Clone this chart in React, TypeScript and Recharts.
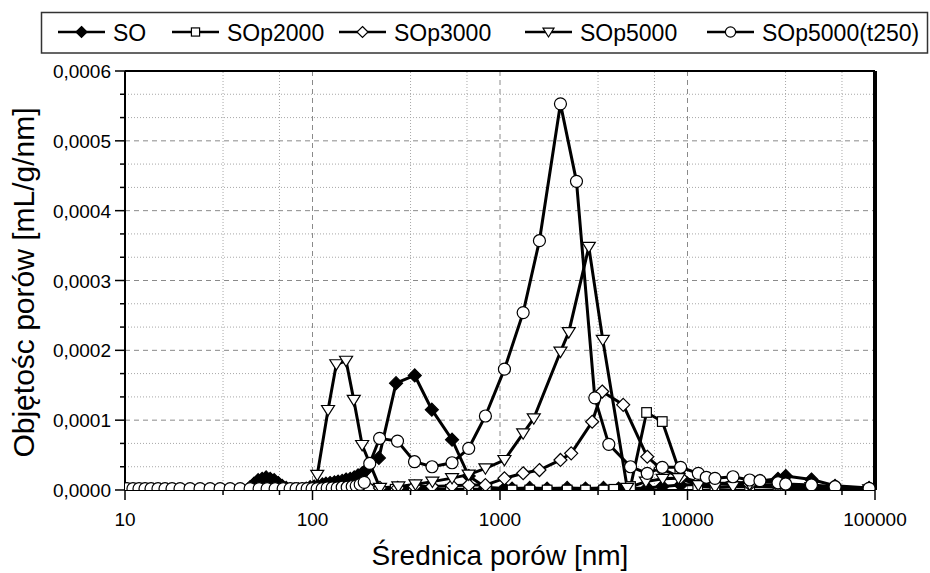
import React from "react";
import { LineChart, Line, XAxis, YAxis, ReferenceLine, Label } from "recharts";

const FONT = '"Liberation Sans", Arial, sans-serif';

// SO
const soDiam = [46.5, 48.8, 51.3, 53.9, 56.6, 59.5, 62.5, 65.6, 68.9, 72.4, 76, 80, 84, 88, 92.6, 97.2, 102, 107, 113, 118, 124, 131, 137, 144, 151, 159, 167, 175, 184, 194, 226, 279, 351, 433, 555, 681, 836, 1056, 1160, 1441, 1784, 2282, 2858, 3565, 4288, 4969, 6101, 7336, 9190, 11420, 14010, 17480, 21460, 24350, 30390, 33400, 45810, 61230, 93010];
const soVol = [0.000004, 0.000009, 0.000014, 0.000016, 0.000018, 0.000016, 0.000014, 0.00001, 0.000006, 0.000003, 0.000001, 0.000001, 0.000001, 0.000001, 0.000002, 0.000004, 0.000005, 0.000006, 0.000008, 0.000009, 0.00001, 0.000011, 0.000012, 0.000013, 0.000015, 0.000016, 0.000018, 0.000021, 0.000024, 0.000029, 0.000046, 0.000153, 0.000164, 0.000115, 0.000072, 0.00002, 0.000004, 0.000002, 0.000002, 0.000003, 0.000002, 0.000003, 0.000002, 0.000003, 0.000002, 0.000002, 0.000003, 0.000005, 0.000007, 0.000008, 0.000009, 0.00001, 0.000011, 0.000013, 0.000016, 0.00002, 0.000015, 0.000006, 0.000003];

// SOp2000
const p2Diam = [221, 276, 345, 434, 544, 681, 846, 1160, 1441, 1784, 2282, 2858, 3565, 4047, 4969, 6049, 7336, 9100, 11340, 14010, 21460, 30390, 45810, 93010];
const p2Vol = [0.000001, 0.000001, 0.000001, 0.000001, 0.000001, 0.000001, 0.000001, 0, 0, 0, 0, 0, 0, 0.000001, 0.000005, 0.000111, 0.000098, 0.000025, 0.000005, 0.000004, 0.000005, 0.000004, 0.000003, 0.000001];

// SOp3000
const p3Diam = [201, 229, 285, 350, 434, 555, 681, 836, 1056, 1329, 1623, 2101, 2397, 3102, 3509, 4541, 6101, 7184, 9190, 11420, 14010, 21460, 30390, 45810, 93010];
const p3Vol = [0.000002, 0.000003, 0.000003, 0.000005, 0.000005, 0.000006, 0.000007, 0.000007, 0.0000167, 0.000024, 0.0000286, 0.000043, 0.0000525, 0.0000977, 0.000141, 0.000122, 0.0000476, 0.000031, 0.000018, 0.000012, 0.00001, 0.000008, 0.000006, 0.000004, 0.000002];

// SOp5000
const p5Diam = [106, 121, 134, 151, 166, 184, 229, 287, 354, 436, 555, 681, 836, 1056, 1329, 1514, 2101, 2327, 2976, 3534, 4771, 6000, 7370, 8950, 11420, 14010, 17480, 21460, 30390, 45810, 93010];
const p5Vol = [0.0000215, 0.0001145, 0.00018, 0.000185, 0.000129, 0.0000644, 0.000003, 0.000005, 0.000008, 0.000012, 0.000017, 0.000022, 0.000031, 0.0000429, 0.0000811, 0.0001026, 0.000198, 0.000226, 0.000348, 0.000215, 0.000003, 0.000012, 0.000016, 0.000017, 0.000007, 0.000004, 0.000005, 0.000008, 0.000007, 0.000004, 0.000001];

// SOp5000(t250)
const t250Diam = [10.25, 11.03, 11.88, 12.79, 13.77, 15.0, 16.35, 17.82, 19.66, 22.23, 25.14, 28.43, 32.15, 36.36, 41.12, 46.5, 51.93, 57.29, 63.22, 69.78, 76.04, 81.84, 88.1, 93.7, 99.6, 105.9, 112.7, 119.8, 127.4, 135.5, 144.1, 153.2, 162.9, 171.1, 179.7, 188.8, 202, 228, 284, 350, 434, 555, 681, 836, 1056, 1329, 1623, 2101, 2558, 3203, 3805, 4969, 6101, 7336, 9190, 11420, 12600, 14010, 17480, 21460, 24350, 30390, 33400, 45810, 61230, 93010];
const t250Vol = [0.000002, 0.000002, 0.000002, 0.000002, 0.000002, 0.000002, 0.000002, 0.000002, 0.000002, 0.000002, 0.000002, 0.000002, 0.000002, 0.000002, 0.000002, 0.000002, 0.000002, 0.000002, 0.000002, 0.000002, 0.000002, 0.000002, 0.000002, 0.000002, 0.000002, 0.000002, 0.000002, 0.000003, 0.000003, 0.000003, 0.000004, 0.000004, 0.000005, 0.000006, 0.000008, 0.000011, 0.000038, 0.000074, 0.00007, 0.0000405, 0.0000333, 0.000039, 0.0000597, 0.000106, 0.000173, 0.000254, 0.000357, 0.000553, 0.000442, 0.000132, 0.0000654, 0.0000333, 0.0000239, 0.0000325, 0.0000325, 0.0000239, 0.0000182, 0.0000167, 0.000019, 0.0000143, 0.0000133, 0.0000104, 0.0000086, 0.0000072, 0.0000047, 0.0000024];

const xMajor = [10, 100, 1000, 10000, 100000];
const xMinor = [33.333, 66.667, 333.33, 666.67, 3333.3, 6666.7, 33333, 66667];
const yMajor = [0, 0.0001, 0.0002, 0.0003, 0.0004, 0.0005, 0.0006];
const yMinor = [0.0000333, 0.0000667, 0.0001333, 0.0001667, 0.0002333, 0.0002667, 0.0003333, 0.0003667, 0.0004333, 0.0004667, 0.0005333, 0.0005667];

type Kind = "filledDiamond" | "square" | "diamond" | "triangle" | "circle";

const series: { name: string; kind: Kind; xs: number[]; ys: number[] }[] = [
  { name: "SO", kind: "filledDiamond", xs: soDiam, ys: soVol },
  { name: "SOp2000", kind: "square", xs: p2Diam, ys: p2Vol },
  { name: "SOp3000", kind: "diamond", xs: p3Diam, ys: p3Vol },
  { name: "SOp5000", kind: "triangle", xs: p5Diam, ys: p5Vol },
  { name: "SOp5000(t250)", kind: "circle", xs: t250Diam, ys: t250Vol },
];

const toPoints = (xs: number[], ys: number[]) => xs.map((x, i) => ({ x, y: ys[i] }));

function Marker({ kind, cx, cy, s = 1 }: { kind: Kind; cx: number; cy: number; s?: number }) {
  const sw = 1.2;
  if (kind === "filledDiamond") {
    const r = 6.5 * s;
    return <path d={`M${cx},${cy - r}L${cx + r},${cy}L${cx},${cy + r}L${cx - r},${cy}Z`} fill="#000" stroke="#000" strokeWidth={sw} />;
  }
  if (kind === "diamond") {
    const r = 6.5 * s;
    return <path d={`M${cx},${cy - r}L${cx + r},${cy}L${cx},${cy + r}L${cx - r},${cy}Z`} fill="#fff" stroke="#000" strokeWidth={sw} />;
  }
  if (kind === "square") {
    const h = 4.8 * s;
    return <rect x={cx - h} y={cy - h} width={2 * h} height={2 * h} fill="#fff" stroke="#000" strokeWidth={sw} />;
  }
  if (kind === "triangle") {
    const r = 6.5 * s;
    return <path d={`M${cx - r},${cy - r * 0.7}L${cx + r},${cy - r * 0.7}L${cx},${cy + r * 0.9}Z`} fill="#fff" stroke="#000" strokeWidth={sw} />;
  }
  return <circle cx={cx} cy={cy} r={6 * s} fill="#fff" stroke="#000" strokeWidth={sw} />;
}

const fmtY = (v: number) => v.toFixed(4).replace(".", ",");

function XTick(props: any) {
  const { x, y, payload } = props;
  const major = xMajor.includes(payload.value);
  return (
    <g>
      <line x1={x} x2={x} y1={y} y2={y + (major ? 10 : 5)} stroke="#000" strokeWidth={1.5} />
      {major && (
        <text x={x} y={y + 36} textAnchor="middle" fontSize={19} fontFamily={FONT} fill="#000">
          {payload.value}
        </text>
      )}
    </g>
  );
}

function YTick(props: any) {
  const { x, y, payload } = props;
  const major = yMajor.some((v) => Math.abs(v - payload.value) < 1e-9);
  return (
    <g>
      <line x1={x - (major ? 10 : 5)} x2={x} y1={y} y2={y} stroke="#000" strokeWidth={1.5} />
      {major && (
        <text x={x - 14} y={y + 7} textAnchor="end" fontSize={19} fontFamily={FONT} fill="#000">
          {fmtY(payload.value)}
        </text>
      )}
    </g>
  );
}

function YTitle(props: any) {
  const { viewBox } = props;
  const cx = viewBox.x + 23;
  const cy = viewBox.y + viewBox.height / 2 + 2;
  return (
    <text x={cx} y={cy} transform={`rotate(-90 ${cx} ${cy})`} textAnchor="middle" dominantBaseline="central" fontSize={30} fontFamily={FONT} fill="#000">
      Objętośc porów [mL/g/nm]
    </text>
  );
}

function LegendBox() {
  const textX = [113, 227, 394, 580, 762];
  return (
    <svg width={930} height={60} style={{ position: "absolute", left: 0, top: 0 }}>
      <rect x={41.5} y={12.5} width={886} height={40.5} fill="#fff" stroke="#333" strokeWidth={1.5} />
      {series.map((s, i) => {
        const tx = textX[i];
        const x1 = tx - 55;
        const x2 = tx - 8;
        return (
          <g key={s.name}>
            <line x1={x1} x2={x2} y1={32} y2={32} stroke="#000" strokeWidth={2.5} />
            <Marker kind={s.kind} cx={(x1 + x2) / 2} cy={32} s={0.85} />
            <text x={tx} y={40.5} fontSize={23} fontFamily={FONT} fill="#000">
              {s.name}
            </text>
          </g>
        );
      })}
    </svg>
  );
}

export default function App() {
  return (
    <div style={{ position: "absolute", left: 0, top: 0, width: 930, height: 573, background: "#fff", overflow: "hidden" }}>
      <LineChart width={930} height={573} margin={{ top: 71, right: 55, bottom: 0, left: 0 }}>
        {xMinor.map((v) => (
          <ReferenceLine key={`xm${v}`} x={v} stroke="#a8a8a8" strokeWidth={1} strokeDasharray="1 2" />
        ))}
        {xMajor.slice(1, -1).map((v) => (
          <ReferenceLine key={`xM${v}`} x={v} stroke="#8a8a8a" strokeWidth={1} strokeDasharray="5 4" />
        ))}
        {yMinor.map((v) => (
          <ReferenceLine key={`ym${v}`} y={v} stroke="#a8a8a8" strokeWidth={1} strokeDasharray="1 2" />
        ))}
        {yMajor.slice(1, -1).map((v) => (
          <ReferenceLine key={`yM${v}`} y={v} stroke="#8a8a8a" strokeWidth={1} strokeDasharray="5 4" />
        ))}
        <XAxis
          dataKey="x"
          type="number"
          scale="log"
          domain={[10, 100000]}
          allowDataOverflow
          ticks={[...xMajor, ...xMinor].sort((a, b) => a - b)}
          interval={0}
          tick={<XTick />}
          tickLine={false}
          tickSize={0}
          tickMargin={0}
          height={83}
          axisLine={{ stroke: "#000", strokeWidth: 2 }}
        >
          <Label value="Średnica porów [nm]" position="insideBottom" offset={8} fontSize={28} fontFamily={FONT} fill="#000" />
        </XAxis>
        <YAxis
          type="number"
          domain={[0, 0.0006]}
          allowDataOverflow
          ticks={[...yMajor, ...yMinor].sort((a, b) => a - b)}
          interval={0}
          tick={<YTick />}
          tickLine={false}
          tickSize={0}
          tickMargin={0}
          width={125}
          axisLine={{ stroke: "#000", strokeWidth: 2 }}
        >
          <Label content={<YTitle />} />
        </YAxis>
        <ReferenceLine y={0.0006} stroke="#000" strokeWidth={2} />
        <ReferenceLine x={100000} stroke="#000" strokeWidth={4} />
        {series.map((s) => (
          <Line
            key={s.name}
            name={s.name}
            data={toPoints(s.xs, s.ys)}
            dataKey="y"
            type="linear"
            stroke="#000"
            strokeWidth={3}
            isAnimationActive={false}
            activeDot={false}
            dot={(p: any) => <Marker key={`${s.name}-${p.index}`} kind={s.kind} cx={p.cx} cy={p.cy} />}
          />
        ))}
      </LineChart>
      <LegendBox />
    </div>
  );
}
